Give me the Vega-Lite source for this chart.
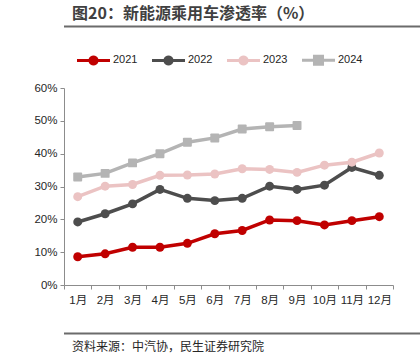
{
  "$schema": "https://vega.github.io/schema/vega-lite/v6.json",
  "padding": {"left": 13, "top": 5, "right": 0, "bottom": 0},
  "spacing": 26,
  "background": "white",
  "resolve": {"legend": {"color": "independent"}},
  "config": {
    "font": "Liberation Sans, Noto Sans CJK SC",
    "axis": {"grid": false}
  },
  "datasets": {
    "rates": [
      {"month": "1月", "year": "2021", "value": 8.6},
      {"month": "2月", "year": "2021", "value": 9.5},
      {"month": "3月", "year": "2021", "value": 11.5},
      {"month": "4月", "year": "2021", "value": 11.5},
      {"month": "5月", "year": "2021", "value": 12.7},
      {"month": "6月", "year": "2021", "value": 15.6},
      {"month": "7月", "year": "2021", "value": 16.6},
      {"month": "8月", "year": "2021", "value": 19.8},
      {"month": "9月", "year": "2021", "value": 19.6},
      {"month": "10月", "year": "2021", "value": 18.3},
      {"month": "11月", "year": "2021", "value": 19.6},
      {"month": "12月", "year": "2021", "value": 20.8},
      {"month": "1月", "year": "2022", "value": 19.2},
      {"month": "2月", "year": "2022", "value": 21.7},
      {"month": "3月", "year": "2022", "value": 24.7},
      {"month": "4月", "year": "2022", "value": 29.1},
      {"month": "5月", "year": "2022", "value": 26.4},
      {"month": "6月", "year": "2022", "value": 25.7},
      {"month": "7月", "year": "2022", "value": 26.4},
      {"month": "8月", "year": "2022", "value": 30.1},
      {"month": "9月", "year": "2022", "value": 29.1},
      {"month": "10月", "year": "2022", "value": 30.4},
      {"month": "11月", "year": "2022", "value": 35.8},
      {"month": "12月", "year": "2022", "value": 33.4},
      {"month": "1月", "year": "2023", "value": 26.9},
      {"month": "2月", "year": "2023", "value": 30.1},
      {"month": "3月", "year": "2023", "value": 30.6},
      {"month": "4月", "year": "2023", "value": 33.4},
      {"month": "5月", "year": "2023", "value": 33.5},
      {"month": "6月", "year": "2023", "value": 33.8},
      {"month": "7月", "year": "2023", "value": 35.4},
      {"month": "8月", "year": "2023", "value": 35.2},
      {"month": "9月", "year": "2023", "value": 34.3},
      {"month": "10月", "year": "2023", "value": 36.5},
      {"month": "11月", "year": "2023", "value": 37.4},
      {"month": "12月", "year": "2023", "value": 40.2},
      {"month": "1月", "year": "2024", "value": 32.9},
      {"month": "2月", "year": "2024", "value": 34.0},
      {"month": "3月", "year": "2024", "value": 37.2},
      {"month": "4月", "year": "2024", "value": 40.0},
      {"month": "5月", "year": "2024", "value": 43.5},
      {"month": "6月", "year": "2024", "value": 44.8},
      {"month": "7月", "year": "2024", "value": 47.5},
      {"month": "8月", "year": "2024", "value": 48.2},
      {"month": "9月", "year": "2024", "value": 48.6}
    ],
    "separator": [{"level": 0}]
  },
  "vconcat": [
    {
      "width": 407,
      "height": 1,
      "view": {"stroke": null},
      "title": {
        "text": "图20：新能源乘用车渗透率（%）",
        "anchor": "start",
        "dx": 9,
        "offset": 4,
        "font": "Noto Sans CJK SC",
        "fontSize": 16,
        "fontWeight": "bold",
        "color": "#404040"
      },
      "data": {"name": "separator"},
      "mark": {"type": "rule", "stroke": "#6b6b6b", "strokeWidth": 2},
      "encoding": {"y": {"field": "level", "type": "quantitative", "axis": null}}
    },
    {
      "width": 329,
      "height": 197,
      "view": {"stroke": null},
      "data": {"name": "rates"},
      "encoding": {
        "x": {
          "field": "month",
          "type": "ordinal",
          "bandPosition": 0.5,
          "sort": ["1月", "2月", "3月", "4月", "5月", "6月", "7月", "8月", "9月", "10月", "11月", "12月"],
          "scale": {"type": "band", "paddingInner": 0, "paddingOuter": 0},
          "axis": {
            "title": null,
            "labelAngle": 0,
            "tickBand": "extent",
            "domainColor": "#8c8c8c",
            "tickColor": "#8c8c8c",
            "tickSize": 4,
            "labelFontSize": 11.5,
            "labelColor": "#262626",
            "labelPadding": 5
          }
        },
        "y": {
          "field": "value",
          "type": "quantitative",
          "scale": {"domain": [0, 60], "nice": false},
          "axis": {
            "title": null,
            "values": [0, 10, 20, 30, 40, 50, 60],
            "labelExpr": "datum.value + '%'",
            "domainColor": "#8c8c8c",
            "tickColor": "#8c8c8c",
            "tickSize": 4,
            "labelFontSize": 11.5,
            "labelColor": "#262626",
            "labelPadding": 3,
            "minExtent": 51
          }
        },
        "color": {
          "field": "year",
          "type": "nominal",
          "scale": {
            "domain": ["2021", "2022", "2023", "2024"],
            "range": ["#c00000", "#4d4d4d", "#ebc3c3", "#b4b4b4"]
          },
          "legend": {
            "title": null,
            "orient": "none",
            "direction": "horizontal",
            "legendX": 13,
            "legendY": -34,
            "padding": 0,
            "symbolSize": 144,
            "symbolStrokeWidth": 0,
            "labelFontSize": 11,
            "labelColor": "#262626",
            "labelOffset": 24,
            "columnPadding": 14,
            "encode": {
              "symbols": {
                "update": {
                  "shape": {"signal": "datum.value == '2024' ? 'M-1,-0.25H0.83V-0.92H2.67V-0.25H4.5V0.25H2.67V0.92H0.83V0.25H-1Z' : 'M-1,-0.25H0.94A0.85,0.85 0 0,1 2.56,-0.25H4.5V0.25H2.56A0.85,0.85 0 0,1 0.94,0.25H-1Z'"},
                  "fill": {"signal": "scale('color', datum.value)"},
                  "stroke": {"value": "transparent"},
                  "opacity": {"value": 1}
                }
              }
            }
          }
        }
      },
      "layer": [
        {
          "mark": {"type": "line", "strokeWidth": 3.5},
          "encoding": {}
        },
        {
          "mark": {"type": "point", "filled": true, "opacity": 1},
          "encoding": {
            "shape": {
              "field": "year",
              "type": "nominal",
              "scale": {"domain": ["2021", "2022", "2023", "2024"], "range": ["circle", "circle", "circle", "M-1,-0.8Q-1,-1 -0.8,-1H0.8Q1,-1 1,-0.8V0.8Q1,1 0.8,1H-0.8Q-1,1 -1,0.8Z"]},
              "legend": null
            },
            "size": {
              "field": "year",
              "type": "nominal",
              "scale": {"domain": ["2021", "2022", "2023", "2024"], "range": [80, 80, 80, 170]},
              "legend": null
            }
          }
        }
      ]
    },
    {
      "width": 407,
      "height": 1,
      "view": {"stroke": null},
      "title": {
        "text": "资料来源：中汽协，民生证券研究院",
        "orient": "bottom",
        "anchor": "start",
        "dx": 9,
        "offset": 7,
        "font": "Noto Sans CJK SC",
        "fontSize": 12,
        "fontWeight": "normal",
        "color": "#262626"
      },
      "data": {"name": "separator"},
      "mark": {"type": "rule", "stroke": "#6b6b6b", "strokeWidth": 2},
      "encoding": {"y": {"field": "level", "type": "quantitative", "axis": null}}
    }
  ]
}
